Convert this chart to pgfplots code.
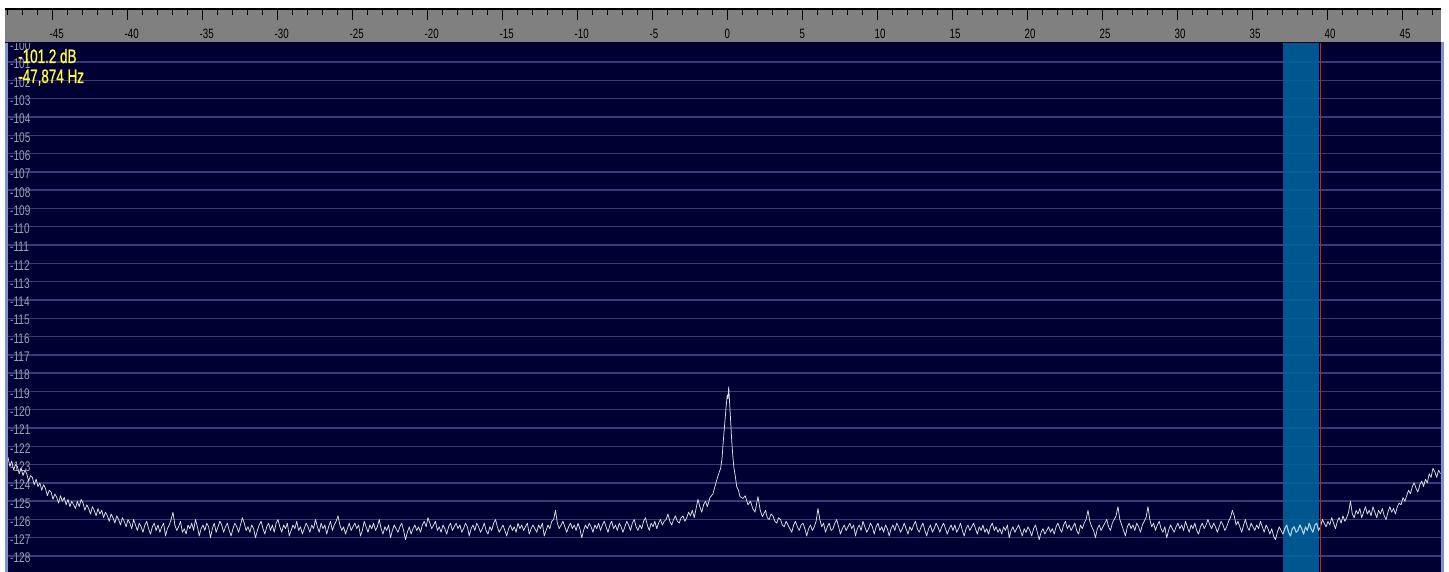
\documentclass[border=0pt]{standalone}
\usepackage{fontspec}
\usepackage{pgfplots}
\pgfplotsset{compat=1.18}
\usepackage{pgfplotstable}
\newfontfamily\narrowfont{Liberation Sans}[FakeStretch=0.72]
\newfontfamily\yelfont{Liberation Sans}[FakeStretch=0.69,FakeBold=0.8]
\definecolor{bgnavy}{RGB}{0,0,50}
\definecolor{gridc}{RGB}{58,58,118}
\definecolor{bandc}{RGB}{0,100,156}
\definecolor{rulerc}{RGB}{128,128,128}
\definecolor{edgec}{RGB}{128,144,216}
\definecolor{ylab}{RGB}{158,158,178}
\definecolor{yel}{RGB}{255,255,64}
\definecolor{tracec}{RGB}{222,222,232}
\definecolor{tracecy}{RGB}{170,215,230}
\definecolor{redc}{RGB}{215,30,30}
\definecolor{darkedge}{RGB}{0,0,28}

\pgfplotstableread{
x y
-48.000 -122.6
-47.875 -123.1
-47.750 -122.8
-47.625 -123.3
-47.500 -123.0
-47.375 -123.1
-47.250 -123.5
-47.125 -123.2
-47.000 -123.6
-46.875 -123.3
-46.750 -123.5
-46.625 -123.9
-46.500 -123.6
-46.375 -123.7
-46.250 -124.1
-46.125 -123.8
-46.000 -124.2
-45.875 -124.0
-45.750 -124.4
-45.625 -124.1
-45.500 -124.3
-45.375 -124.7
-45.250 -124.4
-45.125 -124.5
-45.000 -124.9
-44.875 -124.6
-44.750 -124.8
-44.625 -125.1
-44.500 -124.7
-44.375 -125.0
-44.250 -124.8
-44.125 -125.2
-44.000 -124.9
-43.875 -125.3
-43.750 -125.0
-43.625 -125.2
-43.500 -125.4
-43.375 -125.0
-43.250 -125.3
-43.125 -124.9
-43.000 -125.1
-42.875 -125.5
-42.750 -125.2
-42.625 -125.4
-42.500 -125.7
-42.375 -125.3
-42.250 -125.5
-42.125 -125.8
-42.000 -125.4
-41.875 -125.7
-41.750 -125.5
-41.625 -125.9
-41.500 -125.6
-41.375 -125.8
-41.250 -126.1
-41.125 -125.7
-41.000 -125.9
-40.875 -126.2
-40.750 -125.8
-40.625 -126.0
-40.500 -126.3
-40.375 -125.9
-40.250 -126.1
-40.125 -126.4
-40.000 -126.0
-39.875 -126.2
-39.750 -126.5
-39.625 -126.0
-39.500 -126.3
-39.375 -126.6
-39.250 -126.2
-39.125 -126.4
-39.000 -126.7
-38.875 -126.3
-38.750 -126.1
-38.625 -126.5
-38.500 -126.8
-38.375 -126.4
-38.250 -126.2
-38.125 -126.6
-38.000 -126.3
-37.875 -126.7
-37.750 -126.4
-37.625 -126.2
-37.500 -126.9
-37.375 -126.5
-37.250 -126.3
-37.125 -126.0
-37.000 -125.6
-36.875 -126.3
-36.750 -126.6
-36.625 -126.4
-36.500 -126.1
-36.375 -126.7
-36.250 -126.5
-36.125 -126.8
-36.000 -126.3
-35.875 -126.5
-35.750 -126.2
-35.625 -126.6
-35.500 -126.0
-35.375 -126.4
-35.250 -126.9
-35.125 -126.5
-35.000 -126.3
-34.875 -126.6
-34.750 -126.2
-34.625 -126.4
-34.500 -127.0
-34.375 -126.5
-34.250 -126.2
-34.125 -126.7
-34.000 -126.4
-33.875 -126.1
-33.750 -126.3
-33.625 -126.7
-33.500 -126.4
-33.375 -126.2
-33.250 -126.6
-33.125 -126.9
-33.000 -126.5
-32.875 -126.2
-32.750 -126.4
-32.625 -126.7
-32.500 -126.3
-32.375 -125.9
-32.250 -126.2
-32.125 -126.6
-32.000 -126.4
-31.875 -126.7
-31.750 -126.3
-31.625 -126.5
-31.500 -127.0
-31.375 -126.6
-31.250 -126.3
-31.125 -126.1
-31.000 -126.5
-30.875 -126.8
-30.750 -126.4
-30.625 -126.2
-30.500 -126.6
-30.375 -126.3
-30.250 -126.7
-30.125 -126.2
-30.000 -126.0
-29.875 -126.4
-29.750 -126.7
-29.625 -126.3
-29.500 -126.5
-29.375 -126.2
-29.250 -126.9
-29.125 -126.6
-29.000 -126.3
-28.875 -126.5
-28.750 -126.1
-28.625 -126.6
-28.500 -126.4
-28.375 -126.8
-28.250 -126.5
-28.125 -126.2
-28.000 -126.4
-27.875 -126.7
-27.750 -126.3
-27.625 -126.5
-27.500 -126.0
-27.375 -126.4
-27.250 -126.7
-27.125 -126.2
-27.000 -126.5
-26.875 -126.3
-26.750 -126.8
-26.625 -126.4
-26.500 -126.1
-26.375 -126.6
-26.250 -126.3
-26.125 -126.1
-26.000 -125.8
-25.875 -126.3
-25.750 -126.6
-25.625 -126.4
-25.500 -126.8
-25.375 -126.5
-25.250 -126.2
-25.125 -126.6
-25.000 -126.4
-24.875 -126.2
-24.750 -126.5
-24.625 -126.3
-24.500 -126.9
-24.375 -126.6
-24.250 -126.1
-24.125 -126.4
-24.000 -126.7
-23.875 -126.3
-23.750 -126.5
-23.625 -126.2
-23.500 -126.6
-23.375 -126.4
-23.250 -126.0
-23.125 -126.5
-23.000 -126.8
-22.875 -126.4
-22.750 -126.6
-22.625 -126.3
-22.500 -127.0
-22.375 -126.6
-22.250 -126.3
-22.125 -126.5
-22.000 -126.7
-21.875 -126.4
-21.750 -126.2
-21.625 -126.6
-21.500 -127.1
-21.375 -126.7
-21.250 -126.4
-21.125 -126.8
-21.000 -126.5
-20.875 -126.3
-20.750 -126.6
-20.625 -126.4
-20.500 -126.7
-20.375 -126.3
-20.250 -126.1
-20.125 -126.4
-20.000 -125.9
-19.875 -126.2
-19.750 -126.5
-19.625 -126.3
-19.500 -126.1
-19.375 -126.6
-19.250 -126.4
-19.125 -126.7
-19.000 -126.3
-18.875 -126.5
-18.750 -126.8
-18.625 -126.4
-18.500 -126.2
-18.375 -126.6
-18.250 -126.4
-18.125 -126.2
-18.000 -126.5
-17.875 -126.3
-17.750 -126.7
-17.625 -126.5
-17.500 -126.2
-17.375 -126.4
-17.250 -126.9
-17.125 -126.5
-17.000 -126.3
-16.875 -126.6
-16.750 -126.2
-16.625 -126.4
-16.500 -126.7
-16.375 -126.5
-16.250 -126.2
-16.125 -126.6
-16.000 -126.8
-15.875 -126.4
-15.750 -126.6
-15.625 -126.2
-15.500 -126.0
-15.375 -126.4
-15.250 -126.7
-15.125 -126.5
-15.000 -126.3
-14.875 -126.6
-14.750 -126.9
-14.625 -126.5
-14.500 -126.3
-14.375 -126.6
-14.250 -126.4
-14.125 -126.7
-14.000 -126.2
-13.875 -126.5
-13.750 -126.3
-13.625 -126.6
-13.500 -126.4
-13.375 -126.2
-13.250 -126.8
-13.125 -126.5
-13.000 -126.3
-12.875 -126.5
-12.750 -126.7
-12.625 -126.3
-12.500 -126.5
-12.375 -126.2
-12.250 -126.9
-12.125 -126.6
-12.000 -126.3
-11.875 -126.5
-11.750 -126.1
-11.625 -126.0
-11.500 -125.5
-11.375 -126.2
-11.250 -126.5
-11.125 -126.3
-11.000 -126.1
-10.875 -126.4
-10.750 -126.7
-10.625 -126.4
-10.500 -126.2
-10.375 -126.5
-10.250 -126.3
-10.125 -126.6
-10.000 -126.2
-9.875 -126.5
-9.750 -127.0
-9.625 -126.6
-9.500 -126.3
-9.375 -126.5
-9.250 -126.2
-9.125 -126.4
-9.000 -126.7
-8.875 -126.3
-8.750 -126.5
-8.625 -126.2
-8.500 -126.6
-8.375 -126.3
-8.250 -126.1
-8.125 -126.4
-8.000 -126.7
-7.875 -126.3
-7.750 -126.1
-7.625 -126.5
-7.500 -126.3
-7.375 -126.6
-7.250 -126.2
-7.125 -126.4
-7.000 -126.7
-6.875 -126.4
-6.750 -126.1
-6.625 -126.3
-6.500 -126.6
-6.375 -126.2
-6.250 -126.0
-6.125 -126.4
-6.000 -126.6
-5.875 -126.3
-5.750 -126.5
-5.625 -126.1
-5.500 -125.9
-5.375 -126.3
-5.250 -126.6
-5.125 -126.2
-5.000 -126.4
-4.875 -126.1
-4.750 -126.5
-4.625 -126.2
-4.500 -126.0
-4.375 -126.3
-4.250 -126.1
-4.125 -126.0
-4.000 -125.7
-3.875 -126.1
-3.750 -126.3
-3.625 -126.0
-3.500 -125.8
-3.375 -126.1
-3.250 -126.2
-3.125 -125.9
-3.000 -125.8
-2.875 -126.1
-2.750 -125.9
-2.625 -125.6
-2.500 -125.8
-2.375 -125.5
-2.250 -125.9
-2.125 -125.4
-2.000 -124.9
-1.875 -125.3
-1.750 -125.6
-1.625 -125.2
-1.500 -125.0
-1.375 -125.3
-1.200 -124.8
-1.000 -124.6
-0.870 -124.2
-0.700 -123.7
-0.490 -123.2
-0.400 -122.7
-0.310 -121.7
-0.200 -120.6
-0.120 -119.8
-0.050 -119.2
0.000 -119.4
0.050 -118.75
0.100 -119.5
0.170 -120.5
0.250 -121.7
0.320 -122.5
0.400 -123.2
0.500 -123.7
0.580 -124.2
0.700 -124.4
0.800 -124.75
1.000 -124.85
1.150 -124.7
1.330 -125.2
1.500 -125.0
1.650 -125.4
1.800 -125.6
2.000 -124.75
2.150 -125.5
2.300 -125.85
2.500 -125.5
2.625 -125.9
2.750 -126.0
2.875 -125.7
3.000 -125.8
3.125 -126.1
3.250 -126.2
3.375 -125.9
3.500 -126.0
3.625 -126.3
3.750 -126.4
3.875 -126.1
4.000 -126.3
4.125 -126.5
4.250 -126.7
4.375 -126.3
4.500 -126.1
4.625 -126.4
4.750 -126.6
4.875 -126.3
5.000 -126.2
5.125 -126.5
5.250 -126.9
5.375 -126.5
5.500 -126.3
5.625 -126.6
5.750 -126.4
5.875 -126.1
6.000 -125.4
6.125 -126.0
6.250 -126.4
6.375 -126.2
6.500 -126.7
6.625 -126.4
6.750 -126.2
6.875 -126.6
7.000 -126.5
7.125 -126.2
7.250 -126.0
7.375 -126.4
7.500 -126.8
7.625 -126.5
7.750 -126.3
7.875 -126.6
8.000 -126.4
8.125 -126.2
8.250 -126.5
8.375 -126.3
8.500 -126.9
8.625 -126.5
8.750 -126.3
8.875 -126.6
9.000 -126.1
9.125 -126.4
9.250 -126.7
9.375 -126.5
9.500 -126.2
9.625 -126.4
9.750 -126.8
9.875 -126.4
10.000 -126.2
10.125 -126.6
10.250 -126.4
10.375 -126.7
10.500 -126.3
10.625 -126.5
10.750 -126.9
10.875 -126.5
11.000 -126.3
11.125 -126.6
11.250 -126.2
11.375 -126.4
11.500 -126.7
11.625 -126.5
11.750 -126.2
11.875 -126.5
12.000 -126.8
12.125 -126.4
12.250 -126.6
12.375 -126.3
12.500 -126.1
12.625 -126.5
12.750 -126.7
12.875 -126.4
13.000 -126.2
13.125 -126.6
13.250 -126.9
13.375 -126.5
13.500 -126.3
13.625 -126.7
13.750 -126.5
13.875 -126.2
14.000 -126.4
14.125 -126.7
14.250 -126.4
14.375 -126.2
14.500 -126.5
14.625 -126.8
14.750 -126.5
14.875 -126.3
15.000 -126.6
15.125 -126.3
15.250 -126.7
15.375 -126.5
15.500 -126.2
15.625 -126.6
15.750 -126.9
15.875 -126.5
16.000 -126.3
16.125 -126.6
16.250 -126.4
16.375 -126.2
16.500 -126.5
16.625 -126.8
16.750 -126.4
16.875 -126.6
17.000 -126.3
17.125 -126.7
17.250 -126.5
17.375 -126.8
17.500 -126.4
17.625 -126.2
17.750 -126.6
17.875 -126.4
18.000 -126.7
18.125 -126.5
18.250 -126.8
18.375 -126.4
18.500 -126.6
18.625 -126.3
18.750 -127.0
18.875 -126.6
19.000 -126.4
19.125 -126.7
19.250 -126.5
19.375 -126.3
19.500 -126.6
19.625 -126.9
19.750 -126.5
19.875 -126.7
20.000 -126.4
20.125 -126.6
20.250 -126.9
20.375 -126.5
20.500 -126.3
20.625 -126.7
20.750 -127.1
20.875 -126.7
21.000 -126.5
21.125 -126.8
21.250 -126.6
21.375 -126.4
21.500 -126.7
21.625 -126.5
21.750 -126.8
21.875 -126.4
22.000 -126.2
22.125 -126.5
22.250 -126.7
22.375 -126.3
22.500 -126.1
22.625 -126.5
22.750 -126.3
22.875 -126.6
23.000 -126.4
23.125 -126.2
23.250 -126.6
23.375 -126.8
23.500 -126.3
23.625 -126.5
23.750 -126.2
23.875 -126.0
24.000 -125.5
24.125 -126.1
24.250 -126.4
24.375 -126.6
24.500 -127.0
24.625 -126.5
24.750 -126.3
24.875 -126.6
25.000 -126.4
25.125 -126.2
25.250 -126.0
25.375 -126.4
25.500 -126.6
25.625 -126.2
25.750 -126.0
25.875 -125.8
26.000 -125.3
26.125 -126.0
26.250 -126.3
26.375 -126.6
26.500 -126.9
26.625 -126.4
26.750 -126.2
26.875 -126.5
27.000 -126.3
27.125 -126.6
27.250 -126.2
27.375 -126.4
27.500 -126.7
27.625 -126.3
27.750 -126.1
27.875 -125.9
28.000 -125.3
28.125 -126.0
28.250 -126.4
28.375 -126.2
28.500 -126.6
28.625 -126.3
28.750 -126.1
28.875 -126.5
29.000 -126.7
29.125 -126.4
29.250 -127.0
29.375 -126.6
29.500 -126.3
29.625 -126.5
29.750 -126.7
29.875 -126.4
30.000 -126.2
30.125 -126.5
30.250 -126.3
30.375 -126.6
30.500 -126.1
30.625 -126.4
30.750 -126.7
30.875 -126.3
31.000 -126.5
31.125 -126.2
31.250 -126.6
31.375 -126.8
31.500 -126.4
31.625 -126.2
31.750 -126.5
31.875 -126.3
32.000 -126.0
32.125 -126.3
32.250 -126.5
32.375 -126.2
32.500 -126.4
32.625 -126.7
32.750 -126.4
32.875 -126.1
33.000 -126.3
33.125 -126.6
33.250 -126.4
33.375 -126.1
33.500 -125.9
33.625 -125.5
33.750 -125.8
33.875 -126.3
34.000 -126.1
34.125 -126.4
34.250 -126.7
34.375 -126.3
34.500 -126.0
34.625 -126.4
34.750 -126.6
34.875 -126.2
35.000 -126.4
35.125 -126.6
35.250 -126.3
35.375 -126.5
35.500 -126.1
35.625 -126.4
35.750 -126.7
35.875 -126.3
36.000 -126.5
36.125 -126.8
36.250 -126.5
36.375 -126.9
36.500 -127.1
36.625 -126.7
36.750 -126.4
36.875 -126.6
37.000 -126.8
37.125 -126.5
37.250 -126.3
37.375 -126.7
37.500 -126.9
37.625 -126.5
37.750 -126.4
37.875 -126.7
38.000 -126.6
38.125 -126.3
38.250 -126.5
38.375 -126.8
38.500 -126.4
38.625 -126.6
38.750 -126.2
38.875 -126.5
39.000 -126.7
39.125 -126.3
39.250 -126.2
39.375 -126.6
39.500 -126.4
39.625 -126.0
39.750 -126.2
39.875 -126.4
40.000 -126.1
40.125 -126.3
40.250 -125.9
40.375 -126.2
40.500 -126.5
40.625 -126.1
40.750 -125.9
40.875 -126.2
41.000 -125.8
41.125 -126.1
41.250 -125.9
41.375 -125.6
41.500 -125.0
41.625 -125.7
41.750 -125.9
41.875 -125.5
42.000 -125.7
42.125 -125.4
42.250 -125.9
42.375 -125.6
42.500 -125.3
42.625 -125.7
42.750 -125.5
42.875 -125.8
43.000 -125.3
43.125 -125.6
43.250 -125.9
43.375 -125.5
43.500 -125.7
43.625 -125.4
43.750 -125.8
43.875 -126.0
44.000 -125.6
44.125 -125.3
44.250 -125.6
44.375 -125.4
44.500 -125.7
44.625 -125.3
44.750 -125.1
44.875 -125.2
45.000 -124.8
45.125 -125.0
45.250 -124.7
45.375 -124.4
45.500 -124.6
45.625 -124.2
45.750 -124.0
45.875 -124.3
46.000 -124.5
46.125 -124.1
46.250 -123.9
46.375 -124.2
46.500 -123.8
46.625 -124.0
46.750 -123.5
46.875 -123.7
47.000 -123.2
47.125 -123.4
47.250 -123.7
47.375 -123.3
47.500 -123.5
}\spectrum

\begin{document}
\begin{tikzpicture}[x=1pt,y=1pt]
\path[use as bounding box] (0,0) rectangle (1449,572);
\fill[white] (0,0) rectangle (1449,572);
\fill[edgec] (5,0) rectangle (8,530);
\fill[edgec] (1441,0) rectangle (1444,530);

% main spectrum axis
\begin{axis}[at={(8pt,0pt)}, anchor=south west, scale only axis,
  width=1433pt, height=530pt,
  xmin=-48, xmax=47.533, ymin=-128.87, ymax=-99.9,
  axis background/.style={fill=bgnavy},
  axis line style={draw=none},
  xtick=\empty,
  ytick={-128,-127,...,-101},
  yticklabels={-128,-127,-126,-125,-124,-123,-122,-121,-120,-119,-118,-117,-116,-115,-114,-113,-112,-111,-110,-109,-108,-107,-106,-105,-104,-103,-102,-101},
  extra y ticks={-100}, extra y tick labels={-100},
  extra y tick style={grid=none},
  ymajorgrids, grid style={gridc, line width=1.4pt},
  major tick length=0pt,
  /pgf/number format/assume math mode=true,
  yticklabel style={font=\narrowfont\fontsize{14}{14}\selectfont, anchor=west, xshift=2pt, yshift=-2pt, text=ylab, inner sep=0pt},
  clip=true]
\addplot[fill=bandc, fill opacity=0.88, draw=none] coordinates {(37.0,-130) (37.0,-99) (39.4,-99) (39.4,-130)} -- cycle;
\addplot[tracec, line width=0.75pt, line join=round] table[x=x,y=y] {\spectrum};
\addplot[tracecy, line width=0.75pt, line join=round, restrict x to domain=37:39.4] table[x=x,y=y] {\spectrum};
\addplot[redc, line width=1.5pt] coordinates {(39.5,-130) (39.5,-99)};
\end{axis}

% dark seam between ruler and spectrum
\fill[darkedge] (5,528.6) rectangle (1441,530.2);

% top ruler
\begin{axis}[at={(5pt,530pt)}, anchor=south west, scale only axis,
  width=1436pt, height=33pt,
  xmin=-48.2, xmax=47.533, ymin=0, ymax=1,
  axis background/.style={fill=rulerc},
  axis x line=top, axis y line=none,
  axis line style={black, line width=1.5pt, -},
  xtick={-45,-40,...,45},
  xticklabels={-45,-40,-35,-30,-25,-20,-15,-10,-5,0,5,10,15,20,25,30,35,40,45},
  minor xtick={-48,-47,...,47},
  tick align=inside, major tick length=11pt, minor tick length=6pt,
  every tick/.style={black, line width=1pt},
  xticklabel style={font=\narrowfont\fontsize{13.5}{13.5}\selectfont, anchor=west, xshift=-3.5pt, yshift=-24.5pt, text=black, inner sep=0pt},
  ytick=\empty, clip=false]
\addplot[draw=none] coordinates {(0,0.5)};
\end{axis}

\node[anchor=base west, inner sep=0pt, text=yel, font=\yelfont\fontsize{19.5}{19.5}\selectfont] at (18,509) {-101.2 dB};
\node[anchor=base west, inner sep=0pt, text=yel, font=\yelfont\fontsize{19.5}{19.5}\selectfont] at (18,489) {-47,874 Hz};
\end{tikzpicture}
\end{document}
